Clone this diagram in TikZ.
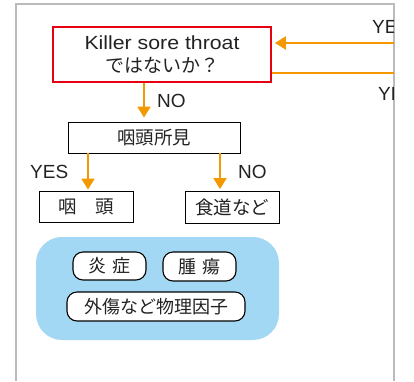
\documentclass[tikz,border=0pt]{standalone}
\usepackage{fontspec}
\setmainfont{Liberation Sans}
\newfontfamily\jp{Noto Sans CJK JP}
\newfontfamily\latw[FakeStretch=1.12]{Liberation Sans}
\usetikzlibrary{arrows.meta}
\definecolor{framec}{HTML}{BBBBBB}
\definecolor{redc}{HTML}{E60012}
\definecolor{orangec}{HTML}{F39800}
\definecolor{bluec}{HTML}{A3D8F5}
\definecolor{textc}{HTML}{222222}
\begin{document}
\begin{tikzpicture}[x=1pt,y=-1pt,
  every node/.style={text=textc},
  box/.style={draw=black,line width=0.9pt,inner sep=0pt,font=\jp\fontsize{18.5}{22}\selectfont},
  pill/.style={draw=black,line width=1.1pt,fill=white,rounded corners=10pt,inner sep=0pt,font=\jp\fontsize{18}{22}\selectfont},
  arr/.style={draw=orangec,line width=2pt,-{Triangle[length=11pt,width=13pt]},shorten >=3pt},
  oline/.style={draw=orangec,line width=2pt},
  lbl/.style={inner sep=0pt,anchor=base west,font=\fontsize{19}{22}\selectfont}]
\useasboundingbox (0,0) rectangle (414,381);
\draw[framec,line width=1.5pt] (16,381) -- (16,4) -- (394,4) -- (394,381);
% top red box
\node[draw=redc,line width=1.8pt,minimum width=218pt,minimum height=55pt,inner sep=0pt,align=center,
  font=\fontsize{19}{23.5}\selectfont] (k) at (162,54.5)
  {{\latw Killer sore throat}\\[-1pt]{\jp ではないか？}};
\coordinate (r1) at (394,43);
\coordinate (r2) at (394,73);
\draw[arr] (r1) -- (k.east |- r1);
\draw[oline] (k.east |- r2) -- (r2);
\begin{scope}
  \clip (0,0) rectangle (393.5,381);
  \node[lbl] (yes1) at (372,33.5) {YES};
  \node[lbl] (yes2) at (378,100) {YES};
\end{scope}
% second box
\node[box,minimum width=172pt,minimum height=31pt] (b2) at (154,137.5) {咽頭所見};
\draw[arr,shorten >=4pt] ([xshift=-18pt]k.south) -- ([xshift=-10pt]b2.north);
\node[lbl] (no1) at (157,107) {NO};
% third row
\node[box,minimum width=94pt,minimum height=31pt] (ph) at (86,206.5) {咽\hspace{1em}頭};
\node[box,minimum width=94pt,minimum height=32pt] (es) at (232,207.5) {食道など};
\draw[arr,shorten >=1pt] ([xshift=-66pt]b2.south) -- ([xshift=2pt]ph.north);
\draw[arr,shorten >=2pt] ([xshift=66pt]b2.south) -- ([xshift=-12pt]es.north);
\node[lbl] (yes3) at (30,178) {YES};
\node[lbl] (no2) at (238,178) {NO};
% blue area
\node[fill=bluec,rounded corners=26pt,minimum width=243pt,minimum height=103pt,inner sep=0pt] (area) at (157.5,288.5) {};
\node[pill,minimum width=73pt,minimum height=28pt] (p1) at (109.5,266) {炎\hspace{0.3em}症};
\node[pill,minimum width=73pt,minimum height=29pt] (p2) at (199.5,266.5) {腫\hspace{0.3em}瘍};
\node[pill,minimum width=178pt,minimum height=29pt] (p3) at (156,306.5) {外傷など物理因子};
\end{tikzpicture}
\end{document}
